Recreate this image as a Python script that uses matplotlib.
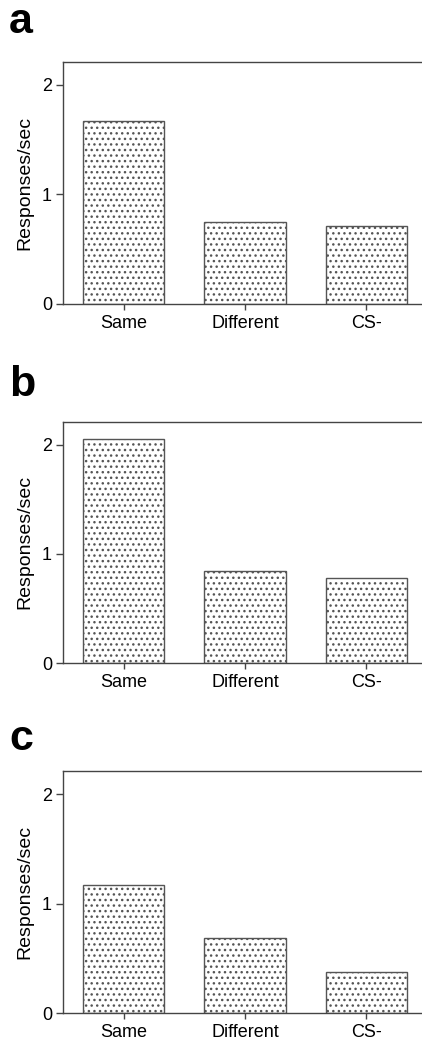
import matplotlib
matplotlib.use("Agg")
import matplotlib.pyplot as plt

plt.rcParams['font.family'] = ['Liberation Sans', 'DejaVu Sans']
plt.rcParams['hatch.linewidth'] = 1.0
plt.rcParams['hatch.color'] = '#222222'

categories = ["Same", "Different", "CS-"]
panel_letters = ["a", "b", "c"]
values_a = [1.674, 0.746, 0.715]
values_b = [2.055, 0.840, 0.776]
values_c = [1.172, 0.685, 0.380]
all_values = [values_a, values_b, values_c]
y_ticks = [0, 1, 2]
y_label = "Responses/sec"

W, H = 422, 1044
fig = plt.figure(figsize=(W / 100, H / 100), dpi=100)

# pixel layout: (top, bottom) of each axes
panels_px = [(62, 304), (421.7, 663.3), (771, 1013.3)]
letter_baseline = [33, 396, 750]
left_px, right_px = 63, 427

spine_col = '#444444'
for vals, (top, bot), letter, lb in zip(all_values, panels_px, panel_letters, letter_baseline):
    ax = fig.add_axes([left_px / W, 1 - bot / H, (right_px - left_px) / W, (bot - top) / H])
    x = list(range(len(categories)))
    ax.bar(x, vals, width=0.67, color='white', edgecolor='#555555',
           linewidth=1.0, hatch='...')
    ax.set_xlim(-0.5, 2.5)
    ax.set_ylim(0, 2.21)
    ax.set_xticks(x)
    ax.set_xticklabels(categories, fontsize=13)
    ax.set_yticks(y_ticks)
    ax.set_yticklabels([str(t) for t in y_ticks], fontsize=13)
    ax.tick_params(axis='y', length=5, width=1, color=spine_col, pad=3)
    ax.tick_params(axis='x', length=4, width=1, color=spine_col, pad=4)
    ax.spines['right'].set_visible(False)
    for s in ['left', 'top', 'bottom']:
        ax.spines[s].set_color(spine_col)
        ax.spines[s].set_linewidth(1.0)
    ax.set_ylabel(y_label, fontsize=14)
    ax.yaxis.set_label_coords(-0.082, 0.5)
    fig.text(9 / W, 1 - lb / H, letter, fontsize=31, fontweight='bold',
             ha='left', va='baseline')

fig.savefig("out.png", dpi=100)
